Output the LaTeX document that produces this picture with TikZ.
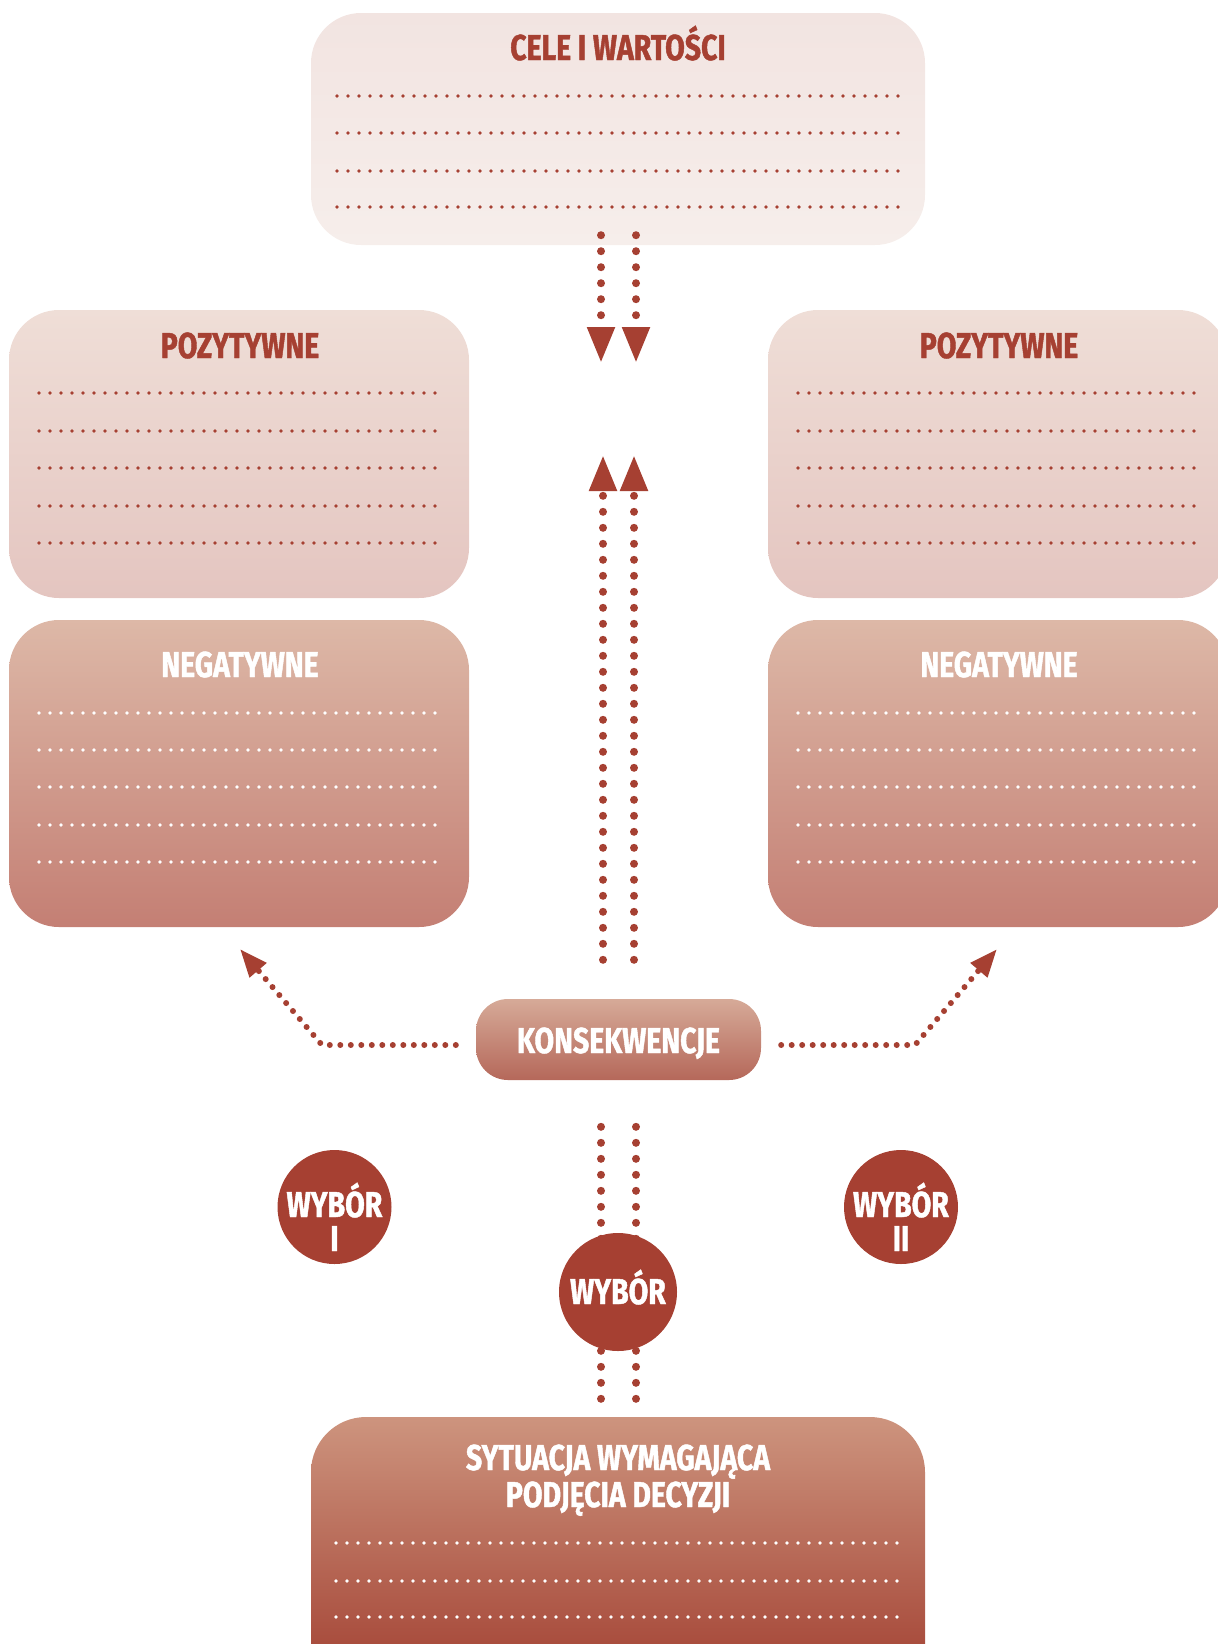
\documentclass[tikz,border=0pt]{standalone}
\usepackage{fontspec}
\newfontfamily\hd[FakeStretch=0.79,FakeBold=1.2]{Fira Sans}
\usetikzlibrary{arrows.meta,calc}
\definecolor{dred}{RGB}{166,64,50}
\definecolor{celeT}{RGB}{242,228,225}
\definecolor{celeB}{RGB}{246,238,235}
\definecolor{pozT}{RGB}{239,222,215}
\definecolor{pozB}{RGB}{228,197,192}
\definecolor{negT}{RGB}{221,184,167}
\definecolor{negB}{RGB}{196,127,116}
\definecolor{konT}{RGB}{214,170,152}
\definecolor{konB}{RGB}{181,104,90}
\definecolor{sytT}{RGB}{205,148,126}
\definecolor{sytB}{RGB}{160,60,46}
\tikzset{
  box/.style={draw=none, inner sep=0pt, rounded corners=50pt},
  ttl/.style={inner sep=0pt, font=\hd\bfseries\fontsize{36}{36}\selectfont, align=center},
  finedots/.style={draw=#1, line width=3.6pt, line cap=round, dash pattern=on 0pt off 11pt},
  bigdots/.style={draw=dred, line width=8pt, line cap=round, dash pattern=on 0pt off 16pt},
  smalldots/.style={draw=dred, line width=6pt, line cap=round, dash pattern=on 0pt off 10.5pt},
  bigtip/.style={-{Triangle[length=36pt,width=26pt]}},
  smalltip/.style={-{Triangle[length=28pt,width=21pt]}},
  circ/.style={circle, fill=dred, draw=none, inner sep=0pt}
}
\begin{document}
\begin{tikzpicture}[x=1pt,y=-1pt]
\useasboundingbox (0,0) rectangle (1218,1644);
\clip (0,0) rectangle (1218,1644);

% boxes
\node[box, top color=celeT, bottom color=celeB, minimum width=614pt, minimum height=232pt] (cele) at (618,129) {};
\node[box, top color=pozT, bottom color=pozB, minimum width=460pt, minimum height=288pt] (pozL) at (239,454) {};
\node[box, top color=negT, bottom color=negB, minimum width=460pt, minimum height=307pt] (negL) at (239,773.5) {};
\node[box, top color=pozT, bottom color=pozB, minimum width=460pt, minimum height=288pt] (pozR) at (998,454) {};
\node[box, top color=negT, bottom color=negB, minimum width=460pt, minimum height=307pt] (negR) at (998,773.5) {};
\node[box, rounded corners=32pt, top color=konT, bottom color=konB, minimum width=285pt, minimum height=81pt] (kons) at (618.5,1039.5) {};
\node[box, rounded corners=55pt, top color=sytT, bottom color=sytB, minimum width=614pt, minimum height=283pt] (syt) at (618,1558.5) {};

% titles
\node[ttl, text=dred, anchor=base] at (618,60) {CELE I WARTOŚCI};
\node[ttl, text=dred, anchor=base] at (240,358) {POZYTYWNE};
\node[ttl, text=dred, anchor=base] at (999,358) {POZYTYWNE};
\node[ttl, text=white, anchor=base] at (240,677) {NEGATYWNE};
\node[ttl, text=white, anchor=base] at (999,677) {NEGATYWNE};
\node[ttl, text=white, anchor=base] at (618.5,1053) {KONSEKWENCJE};
\node[ttl, text=white, anchor=base] at (618,1507) {SYTUACJA WYMAGAJĄCA\\[1pt]PODJĘCIA DECYZJI};

% dotted writing lines
\foreach \y in {96,133,171,207} \draw[finedots=dred] (337,\y) -- (902,\y);
\foreach \y in {393,431,468,506,543} {
  \draw[finedots=dred] (39,\y) -- (440,\y);
  \draw[finedots=dred] (798,\y) -- (1199,\y);
}
\foreach \y in {713,750,787,825,862} {
  \draw[finedots=white] (39,\y) -- (440,\y);
  \draw[finedots=white] (798,\y) -- (1199,\y);
}
\foreach \y in {1543,1581,1617} \draw[finedots=white] (336,\y) -- (900,\y);

% free ends
\coordinate (dA) at (601,363);
\coordinate (dB) at (636,363);
\coordinate (uA) at (603,455);
\coordinate (uB) at (634,455);
\coordinate (cL) at (322,1045);
\coordinate (tL) at (240,949);
\coordinate (cR) at (915,1045);
\coordinate (tR) at (997,949);

% connectors
\draw[bigdots, bigtip] ($(cele.south)+(-17,-10)$) -- (dA);
\draw[bigdots, bigtip] ($(cele.south)+(18,-10)$) -- (dB);
\draw[bigdots, bigtip] ($(kons.north)+(-15.5,-39)$) -- (uA);
\draw[bigdots, bigtip] ($(kons.north)+(15.5,-39)$) -- (uB);
\draw[bigdots] ($(syt.north)+(-17,-18)$) -- ($(kons.south)+(-17.5,38)$);
\draw[bigdots] ($(syt.north)+(18,-18)$) -- ($(kons.south)+(17.5,38)$);
\draw[smalldots, smalltip] ($(kons.west)+(-20,5.5)$) -- (cL) -- (tL);
\draw[smalldots, smalltip] ($(kons.east)+(20,5.5)$) -- (cR) -- (tR);

% choice circles
\node[circ, minimum size=114pt] (w1) at (334.5,1207) {};
\node[circ, minimum size=114pt] (w2) at (901,1207) {};
\node[circ, minimum size=118pt] (w) at (618,1292) {};
\node[ttl, text=white, anchor=base] at (334.5,1251) {WYBÓR\\[-2pt]I};
\node[ttl, text=white, anchor=base] at (901,1251) {WYBÓR\\[-2pt]II};
\node[ttl, text=white, anchor=base] at (618,1304) {WYBÓR};
\end{tikzpicture}
\end{document}
